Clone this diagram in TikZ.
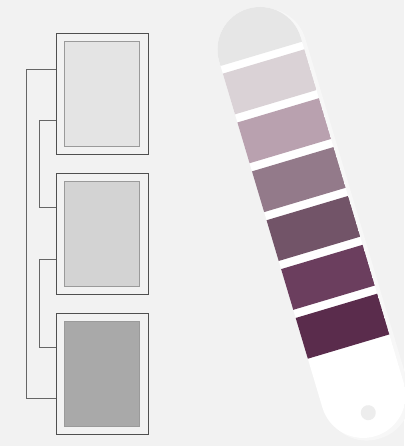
\documentclass[tikz,border=0pt]{standalone}
\usepackage{tikz}
\usepackage{xcolor}
\usetikzlibrary{positioning,calc}
\definecolor{paper}{HTML}{F2F2F2}
\definecolor{frameline}{HTML}{4F4F4F}
\definecolor{linkline}{HTML}{666666}
\definecolor{edgegray}{HTML}{9A9A9A}
\definecolor{toneA}{HTML}{E4E4E4}
\definecolor{toneB}{HTML}{D3D3D3}
\definecolor{toneC}{HTML}{A9A9A9}
\definecolor{capgray}{HTML}{E6E6E6}
\definecolor{plumA}{HTML}{DAD2D6}
\definecolor{plumB}{HTML}{B9A1AF}
\definecolor{plumC}{HTML}{937A8A}
\definecolor{plumD}{HTML}{725468}
\definecolor{plumE}{HTML}{6B3E5E}
\definecolor{plumF}{HTML}{5A2C4C}
\definecolor{holegray}{HTML}{EDEDED}

\begin{document}
\begin{tikzpicture}[x=1pt,y=-1pt,
    frame/.style={draw=frameline,line width=0.9pt,minimum width=92pt,minimum height=121pt,inner sep=0pt},
    swatch/.style={draw=edgegray,line width=1.1pt,minimum width=75pt,minimum height=105pt,inner sep=0pt},
    link/.style={draw=linkline,line width=0.9pt}]
      % page
      \fill[paper] (0,0) rectangle (404,446);
      \useasboundingbox (0,0) rectangle (404,446);
      % framed samples
      \node[frame] (f1) at (102,94) {};
      \node[frame,below=18pt of f1] (f2) {};
      \node[frame,below=18pt of f2] (f3) {};
      \node[swatch,fill=toneA] (s1) at (f1) {};
      \node[swatch,fill=toneB] (s2) at (f2) {};
      \node[swatch,fill=toneC] (s3) at (f3) {};
      % brackets
      \draw[link] ($(f1.west)+(0,-25)$) -- ++(-29,0) |- ($(f3.west)+(0,25)$);
      \draw[link] ($(f1.west)+(0,26)$) -- ++(-16,0) |- ($(f2.west)+(0,-26)$);
      \draw[link] ($(f2.west)+(0,26)$) -- ++(-16,0) |- ($(f3.west)+(0,-26)$);
      % fan strip
      \begin{scope}[shift={(260,49.5)},rotate=16.6]
        \fill[black!5,rounded corners=42.5pt] (-41,-41) rectangle (45,405.5);
        \fill[black!3,rounded corners=42.5pt] (-40,-40) rectangle (46.5,407);
        \begin{scope}
          \clip[rounded corners=42.5pt] (-42.5,-42.5) rectangle (42.5,403.5);
          \fill[white] (-43,-43) rectangle (43,404);
          \fill[capgray] (-43,-43) rectangle (43,4.5);
          \foreach \c [count=\k from 0] in {plumA,plumB,plumC,plumD,plumE,plumF}
            {\fill[\c] (-43,{12.5+51*\k}) rectangle (43,{55+51*\k});}
        \end{scope}
        \fill[holegray] (0,379) circle (7.5);
      \end{scope}
    \end{tikzpicture}
\end{document}
